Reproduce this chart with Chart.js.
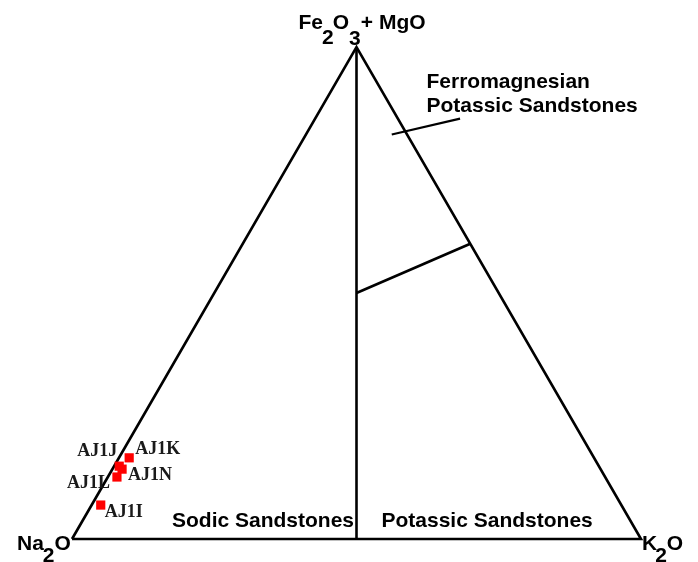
<!DOCTYPE html>
<html>
<head>
<meta charset="utf-8">
<script src="https://cdn.jsdelivr.net/npm/chart.js@4/dist/chart.umd.min.js"></script>
<style>
	body { margin: 0; background: #fff; }
	canvas { display: block; }
</style>
</head>
<body>
<canvas id="chart" width="698" height="562"></canvas>
<script>
'use strict';

// samples, composition in % (Na2O, K2O, Fe2O3+MgO)
const sampleNames = ['AJ1K', 'AJ1J', 'AJ1N', 'AJ1L', 'AJ1I'];
const na2o = [81.7, 84.3, 84.1, 85.8, 91.5];
const k2o = [1.8, 0.9, 1.7, 1.6, 1.6];
const fe2o3MgO = [16.5, 14.8, 14.2, 12.6, 6.9];

// field boundaries, same order (Na2O, K2O, Fe2O3+MgO)
const sodicPotassicLine = [[50, 50, 0], [0, 0, 100]];
const ferroLine = [[25, 25, 50], [0, 40, 60]];

const fieldLabels = ['Sodic Sandstones', 'Potassic Sandstones', 'Ferromagnesian', 'Potassic Sandstones'];

const H = Math.sqrt(3) / 2 * 100;

const toXY = function(na, k, fm) {
	const sum = na + k + fm;
	return {
		x: (k + fm / 2) / sum * 100,
		y: fm / sum * H
	};
};

const samplePoints = sampleNames.map((name, i) => toXY(na2o[i], k2o[i], fe2o3MgO[i]));
const outline = [toXY(100, 0, 0), toXY(0, 100, 0), toXY(0, 0, 100), toXY(100, 0, 0)];

const lineSet = function(points, width) {
	return {
		data: points,
		showLine: true,
		pointRadius: 0,
		borderColor: '#000',
		borderWidth: width,
		fill: false,
		clip: false
	};
};

// leader from the Ferromagnesian label into its field (plot units)
const leader = [{x: 56.2, y: 71.2}, {x: 68.2, y: 74.0}];

// draws text, returns its width so pieces can be chained
const put = function(ctx, text, x, y) {
	ctx.fillText(text, x, y);
	return ctx.measureText(text).width;
};

const labelPlugin = {
	id: 'labels',
	afterDatasetsDraw(chart) {
		const ctx = chart.ctx;
		const xs = chart.scales.x;
		const ys = chart.scales.y;
		const px = (p) => ({x: xs.getPixelForValue(p.x), y: ys.getPixelForValue(p.y)});

		const left = px(outline[0]);
		const right = px(outline[1]);
		const apex = px(outline[2]);

		ctx.save();
		ctx.fillStyle = '#000';
		ctx.textBaseline = 'alphabetic';
		ctx.textAlign = 'left';
		ctx.font = 'bold 21px "Liberation Sans", Arial, sans-serif';

		// apex: Fe2O3 + MgO
		let x = apex.x - 58;
		const by = apex.y - 18;
		x += put(ctx, 'Fe', x, by);
		x += put(ctx, '2', x - 1, by + 15) - 2;
		x += put(ctx, 'O', x, by);
		x += put(ctx, '3', x, by + 16);
		x += put(ctx, '+', x, by);
		put(ctx, 'MgO', x + 6, by);

		// Na2O, left corner
		x = left.x - 55;
		x += put(ctx, 'Na', x, left.y + 11);
		x += put(ctx, '2', x - 1, left.y + 23) - 1;
		put(ctx, 'O', x, left.y + 11);

		// K2O, right corner
		x = right.x + 1;
		x += put(ctx, 'K', x, right.y + 11) - 2;
		x += put(ctx, '2', x, right.y + 23);
		put(ctx, 'O', x, right.y + 11);

		// fields
		put(ctx, fieldLabels[0], left.x + 100, left.y - 12);
		put(ctx, fieldLabels[1], apex.x + 25, left.y - 12);
		put(ctx, fieldLabels[2], apex.x + 70, apex.y + 41);
		put(ctx, fieldLabels[3], apex.x + 70, apex.y + 65);

		// sample names
		const offsets = [[6, -4, 'left'], [-2, -10, 'right'], [6, 11, 'left'], [-7, 11, 'right'], [4, 12, 'left']];
		ctx.font = 'bold 18px "Liberation Serif", "Times New Roman", serif';
		ctx.fillStyle = '#1a1a1a';
		chart.getDatasetMeta(0).data.forEach((pt, i) => {
			ctx.textAlign = offsets[i][2];
			ctx.fillText(sampleNames[i], pt.x + offsets[i][0], pt.y + offsets[i][1]);
		});
		ctx.restore();
	}
};

window.onload = function() {
	new Chart(document.getElementById('chart'), {
		type: 'scatter',
		data: {
			datasets: [
				{
					data: samplePoints,
					pointStyle: 'rect',
					pointRadius: 6.5,
					backgroundColor: '#ff0000',
					borderWidth: 0,
					clip: false
				},
				lineSet(outline, 2.6),
				lineSet(sodicPotassicLine.map(c => toXY(c[0], c[1], c[2])), 2.6),
				lineSet(ferroLine.map(c => toXY(c[0], c[1], c[2])), 2.6),
				lineSet(leader, 2.2)
			]
		},
		options: {
			responsive: false,
			animation: false,
			layout: {
				padding: {left: 72, right: 57, top: 47, bottom: 23}
			},
			scales: {
				x: {type: 'linear', min: 0, max: 100, display: false},
				y: {type: 'linear', min: 0, max: H, display: false}
			},
			plugins: {
				legend: {display: false},
				tooltip: {enabled: false}
			}
		},
		plugins: [labelPlugin]
	});
};
</script>
</body>
</html>
